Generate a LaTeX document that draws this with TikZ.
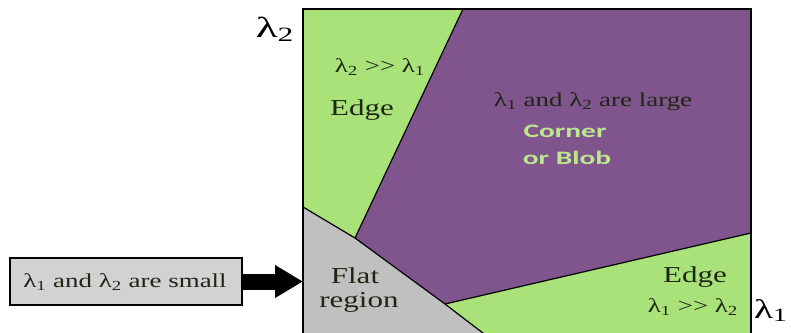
\documentclass[tikz,border=0pt]{standalone}
\usepackage{fontspec}
\setmainfont{Liberation Serif}
\newfontfamily\cbfont{Carlito}
\usepackage{graphicx}
\usetikzlibrary{arrows.meta}
\definecolor{lgreen}{RGB}{170,226,122}
\definecolor{purp}{RGB}{128,84,140}
\definecolor{flatgray}{RGB}{192,192,192}
\definecolor{boxgray}{RGB}{210,210,210}
\definecolor{darktext}{RGB}{30,38,22}
\definecolor{cornertext}{RGB}{188,232,140}
\newcommand{\sx}[1]{\scalebox{1.36}[1]{#1}}
\newcommand{\sxl}[1]{\scalebox{1.55}[1]{#1}}
\newcommand{\lam}[1]{λ\textsubscript{#1}}
\newcommand{\mygt}{>{}>}
\begin{document}
\begin{tikzpicture}[x=1pt,y=-1pt,
  lab/.style={anchor=base, inner sep=0pt, text=darktext, font=\fontsize{22.8}{25}\selectfont},
  smalllab/.style={anchor=base, inner sep=0pt, text=darktext, font=\fontsize{19.8}{22}\selectfont},
  axislab/.style={anchor=base, inner sep=0pt, text=black, font=\fontsize{29}{32}\selectfont},
  cornerlab/.style={anchor=base, inner sep=0pt, text=cornertext, font=\cbfont\bfseries\fontsize{19}{22}\selectfont},
  border/.style={draw=black, line width=1.2pt},
  infobox/.style={draw=black, line width=1.8pt, fill=boxgray, minimum width=232pt, minimum height=47pt, inner sep=0pt}]
\useasboundingbox (0,0) rectangle (791,332);
\clip (0,0) rectangle (791,332);
% regions
\fill[purp] (463,9) -- (751,9) -- (751,233) -- (445,304) -- (355,238) -- cycle;
\fill[lgreen] (303,9) -- (463,9) -- (355,238) -- (303,207) -- cycle;
\fill[flatgray] (303,207) -- (355,238) -- (445,304) -- (492,340) -- (303,340) -- cycle;
\fill[lgreen] (445,304) -- (751,233) -- (751,340) -- (492,340) -- cycle;
% boundaries
\draw[border] (463,9) -- (355,238);
\draw[border] (303,207) -- (355,238) -- (445,304) -- (492,340);
\draw[border] (445,304) -- (751,233);
% square outline
\draw[line width=2.6pt] (303,340) -- (303,9) -- (751,9) -- (751,340);
% texts
\node[smalllab] (t1) at (380,72) {\sx{\lam{2} \mygt\ \lam{1}}};
\node[lab] (t2) at (362,115) {\sx{Edge}};
\node[smalllab] (t3) at (593,106) {\sx{\lam{1} and \lam{2} are large}};
\node[cornerlab] (t4) at (565,137) {\sxl{Corner}};
\node[cornerlab] (t5) at (567,164) {\sxl{or Blob}};
\node[lab] (t6) at (355,283) {\sx{Flat}};
\node[lab] (t7) at (359,307) {\sx{region}};
\node[lab] (t8) at (695,282) {\sx{Edge}};
\node[smalllab] (t9) at (693,312) {\sx{\lam{1} \mygt\ \lam{2}}};
\node[axislab] (ax2) at (275,37) {\sxl{\lam{2}}};
\node[axislab, font=\fontsize{27}{30}\selectfont, anchor=base west] (ax1) at (754,318) {\scalebox{1.45}[1]{\lam{1}}};
% input box and arrow
\node[infobox] (small) at (126,281.5) {};
\node[smalllab] (st) at (125,287) {\sx{\lam{1} and \lam{2} are small}};
\coordinate (sqL) at (303,281.5);
\draw[line width=16pt, -{Triangle[length=28pt,width=31pt]}] (small.east) -- (sqL);
\end{tikzpicture}
\end{document}
